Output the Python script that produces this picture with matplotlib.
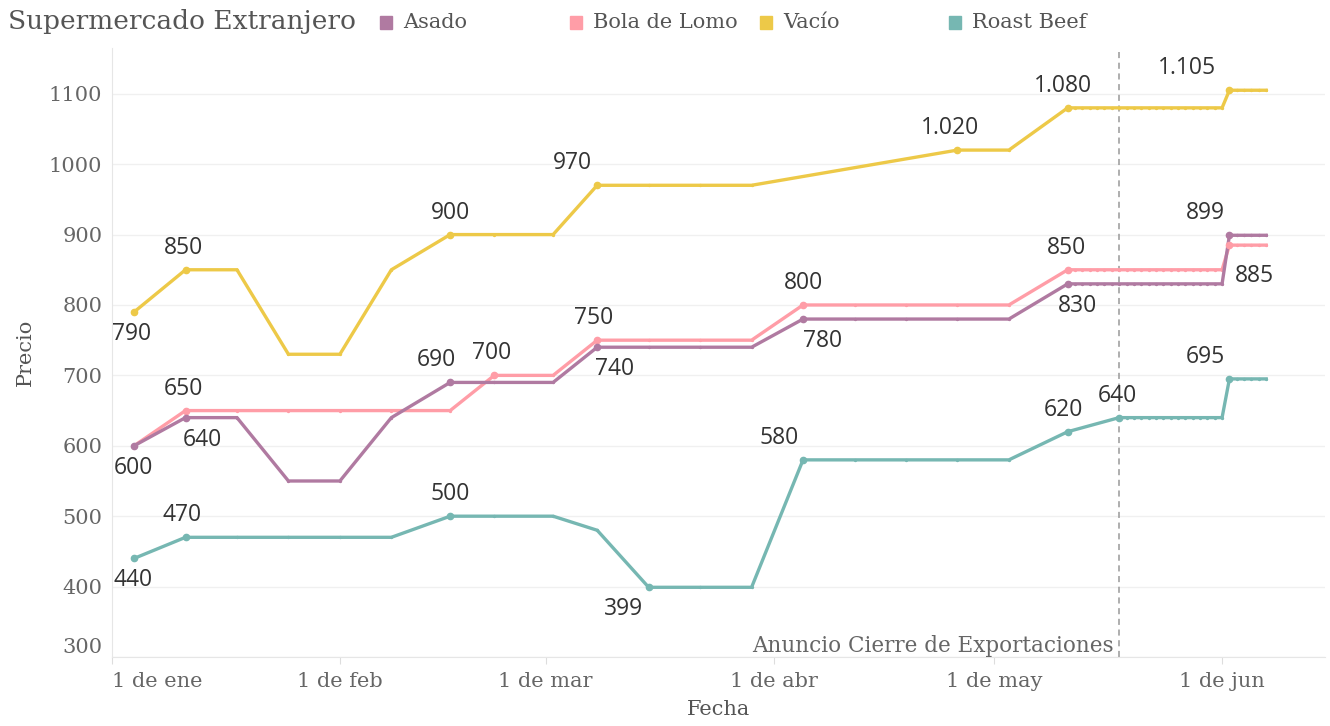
import matplotlib.pyplot as plt
from matplotlib.patches import Rectangle
import numpy as np
import pandas as pd

# fechas: semanal hasta el 11/5, luego diario
fechas = pd.to_datetime([
    '2021-01-04', '2021-01-11', '2021-01-18', '2021-01-25', '2021-02-01',
    '2021-02-08', '2021-02-16', '2021-02-22', '2021-03-02', '2021-03-08',
    '2021-03-15', '2021-03-22', '2021-03-29', '2021-04-05', '2021-04-12',
    '2021-04-19', '2021-04-26', '2021-05-03', '2021-05-11',
    '2021-05-12', '2021-05-13', '2021-05-14', '2021-05-15', '2021-05-16',
    '2021-05-17', '2021-05-18', '2021-05-19', '2021-05-20', '2021-05-21',
    '2021-05-22', '2021-05-23', '2021-05-24', '2021-05-25', '2021-05-26',
    '2021-05-27', '2021-05-28', '2021-05-29', '2021-05-30', '2021-05-31',
    '2021-06-01', '2021-06-02', '2021-06-03', '2021-06-04', '2021-06-05',
    '2021-06-06', '2021-06-07'])

nan = np.nan
asado = [600, 640, 640, 550, 550, 640, 690, 690, 690, 740, 740, 740, 740,
         780, 780, 780, 780, 780, 830,
         830, 830, 830, 830, 830, 830, 830, 830, 830, 830, 830, 830, 830, 830,
         830, 830, 830, 830, 830, 830, 830, 899, 899, 899, 899, 899, 899]
bola_de_lomo = [600, 650, 650, 650, 650, 650, 650, 700, 700, 750, 750, 750, 750,
                800, 800, 800, 800, 800, 850,
                850, 850, 850, 850, 850, 850, 850, 850, 850, 850, 850, 850, 850, 850,
                850, 850, 850, 850, 850, 850, 850, 885, 885, 885, 885, 885, 885]
vacio = [790, 850, 850, 730, 730, 850, 900, 900, 900, 970, 970, 970, 970,
         nan, nan, nan, 1020, 1020, 1080,
         1080, 1080, 1080, 1080, 1080, 1080, 1080, 1080, 1080, 1080, 1080, 1080,
         1080, 1080, 1080, 1080, 1080, 1080, 1080, 1080, 1080,
         1105, 1105, 1105, 1105, 1105, 1105]
roast_beef = [440, 470, 470, 470, 470, 470, 500, 500, 500, 480, 399, 399, 399,
              580, 580, 580, 580, 580, 620,
              nan, nan, nan, nan, nan, nan, 640, 640, 640, 640, 640, 640, 640, 640,
              640, 640, 640, 640, 640, 640, 640, 695, 695, 695, 695, 695, 695]

series = ['Asado', 'Bola de Lomo', 'Vacío', 'Roast Beef']
colores = {'Asado': '#b07aa1', 'Bola de Lomo': '#ff9da7',
           'Vacío': '#edc948', 'Roast Beef': '#76b7b2'}
valores = {'Asado': asado, 'Bola de Lomo': bola_de_lomo,
           'Vacío': vacio, 'Roast Beef': roast_beef}

# (indice, dx px, dy px) de las etiquetas de cada serie
etiquetas = {
    'Vacío': [(0, -2, -10), (1, -2, 10), (6, 0, 10), (9, -25, 10),
              (16, -7, 10), (18, -5, 10), (40, -42, 10)],
    'Asado': [(0, -1, -10), (1, 17, -10), (6, -14, 10), (9, 17, -10),
              (13, 20, -10), (18, 10, -10), (40, -24, 10)],
    'Bola de Lomo': [(1, -2, 10), (7, -3, 10), (9, -4, 10), (13, 0, 10),
                     (18, -1, 10), (40, 25, -19)],
    'Roast Beef': [(0, -1, -10), (1, -3, 10), (6, 0, 10), (10, -25, -10),
                   (13, -24, 10), (18, -4, 10), (25, -2, 10), (40, -24, 10)],
}

anuncio = pd.Timestamp('2021-05-18')

serif = 'DejaVu Serif'
sans = 'Open Sans'

fig = plt.figure(figsize=(13.3, 7.26), dpi=100)
ax = fig.add_axes([112 / 1330, 1 - 657 / 726, 1213 / 1330, 609 / 726])

for nombre in ['Bola de Lomo', 'Asado', 'Vacío', 'Roast Beef']:
    v = np.array(valores[nombre], dtype=float)
    m = ~np.isnan(v)
    c = colores[nombre]
    ax.plot(fechas[m], v[m], color=c, lw=2.4, marker='o', ms=1.4,
            solid_joinstyle='miter', zorder=3)
    for i, dx, dy in etiquetas[nombre]:
        ax.plot(fechas[i], v[i], 'o', color=c, ms=4.5, zorder=4)
        txt = f"{v[i]:,.0f}".replace(',', '.')
        ax.annotate(txt, (fechas[i], v[i]), xytext=(dx, dy),
                    textcoords='offset pixels', ha='center',
                    va='bottom' if dy > 0 else 'top',
                    fontsize=16.5, family=sans, color='#333333', zorder=5)

ax.axvline(anuncio, color='#999999', lw=1.1, ls=(0, (4, 3)), zorder=2)
ax.text(anuncio - pd.Timedelta(days=0.7), 300, 'Anuncio Cierre de Exportaciones',
        ha='right', va='bottom', fontsize=15.5, family=serif, color='#666666')

ax.set_ylim(300, 1165)
ax.set_xlim(pd.Timestamp('2021-01-01'), pd.Timestamp('2021-06-15'))
ax.set_yticks(range(300, 1101, 100))
ax.set_xticks(pd.to_datetime(['2021-01-01', '2021-02-01', '2021-03-01',
                              '2021-04-01', '2021-05-01', '2021-06-01']))
ax.set_xticklabels(['1 de ene', '1 de feb', '1 de mar', '1 de abr',
                    '1 de may', '1 de jun'])
ax.tick_params(axis='y', length=0, pad=7, labelsize=15, labelcolor='#666666')
ax.tick_params(axis='x', length=5, color='#dddddd', pad=6, labelsize=15,
               labelcolor='#666666')
for t in ax.get_xticklabels() + ax.get_yticklabels():
    t.set_family(serif)
ax.get_xticklabels()[0].set_ha('left')
ax.get_yticklabels()[0].set_va('bottom')

ax.grid(axis='y', color='#f0f0f0', lw=1)
ax.set_axisbelow(True)
for s in ['top', 'right']:
    ax.spines[s].set_visible(False)
for s in ['left', 'bottom']:
    ax.spines[s].set_color('#e6e6e6')

ax.set_ylabel('Precio', fontsize=15, family=serif, color='#555555', labelpad=10)
ax.set_xlabel('Fecha', fontsize=15, family=serif, color='#555555', labelpad=6)

# titulo y leyenda
fig.text(8 / 1330, 1 - 22 / 726, 'Supermercado Extranjero', fontsize=19,
         family=serif, color='#555555', va='center')
ley_x = [380, 570, 760, 949]
for nombre, x in zip(series, ley_x):
    fig.add_artist(Rectangle((x / 1330, 1 - 29 / 726), 12 / 1330, 13 / 726,
                             transform=fig.transFigure, color=colores[nombre]))
    fig.text((x + 23) / 1330, 1 - 22 / 726, nombre, fontsize=15, family=serif,
             color='#555555', va='center')

fig.savefig('out.png', dpi=100)
